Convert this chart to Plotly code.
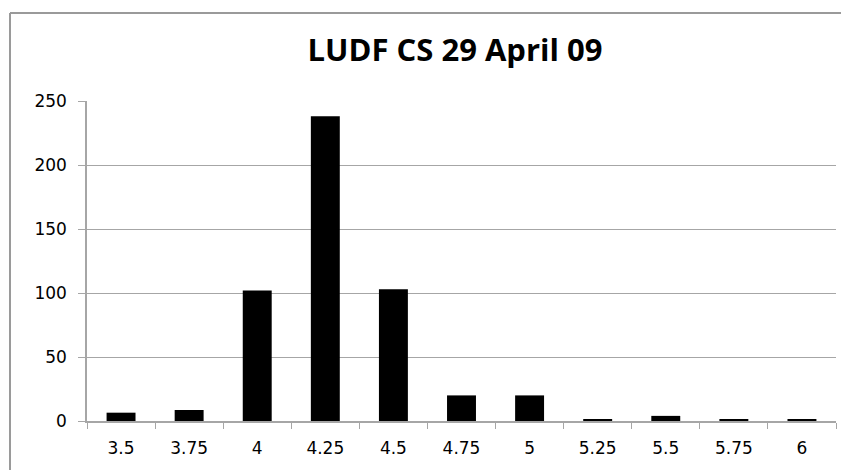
import plotly.graph_objects as go

categories = ["3.5", "3.75", "4", "4.25", "4.5", "4.75", "5", "5.25", "5.5", "5.75", "6"]
counts = [6.5, 8.6, 102, 238, 103, 20, 20, 1, 4, 1, 1]
y_ticks = [0, 50, 100, 150, 200, 250]
title_text = "LUDF CS 29 April 09"

fig = go.Figure(go.Bar(x=categories, y=counts, marker=dict(color="black", line=dict(width=0))))

W, H = 841, 470
L, R, T, B = 87, 5, 101, 49
pw, ph = W - L - R, H - T - B

def px_to_paper_x(px):
    return (px - L) / pw

def px_to_paper_y(py):
    return (H - B - py) / ph

frame_line = dict(color="#9a9a9a", width=2)
fig.update_layout(
    width=W, height=H,
    margin=dict(l=L, r=R, t=T, b=B),
    paper_bgcolor="white", plot_bgcolor="white",
    bargap=0.575,
    showlegend=False,
    title=dict(text="<b>" + title_text + "</b>", x=455 / W, xanchor="center", xref="container",
               y=1 - 50 / H, yanchor="middle",
               font=dict(family="Open Sans, Lato, sans-serif", size=31, color="black")),
    font=dict(family="DejaVu Sans, Verdana, sans-serif", size=16, color="black"),
    shapes=[
        dict(type="line", xref="paper", yref="paper",
             x0=px_to_paper_x(10), x1=px_to_paper_x(10),
             y0=px_to_paper_y(520), y1=px_to_paper_y(13), line=frame_line, layer="below"),
        dict(type="line", xref="paper", yref="paper",
             x0=px_to_paper_x(10), x1=px_to_paper_x(900),
             y0=px_to_paper_y(13), y1=px_to_paper_y(13), line=frame_line, layer="below"),
    ],
)

fig.update_xaxes(type="category", range=[-0.5, 10.5], showgrid=False,
                 showline=True, linecolor="#a6a6a6", linewidth=1.5,
                 ticks="outside", tickson="boundaries", ticklen=6, tickcolor="#a6a6a6",
                 ticklabelstandoff=11, tickfont=dict(size=17))
fig.update_yaxes(range=[0, 250], tickvals=y_ticks, showgrid=True, gridcolor="#a6a6a6", gridwidth=1,
                 showline=True, linecolor="#a6a6a6", linewidth=1.5,
                 ticks="outside", ticklen=7, tickcolor="#a6a6a6",
                 ticklabelstandoff=8, tickfont=dict(size=17), zeroline=False)

fig.write_html("out.html", config={"displayModeBar": False},
               post_script="document.body.style.margin='0';document.body.style.overflow='hidden';")
